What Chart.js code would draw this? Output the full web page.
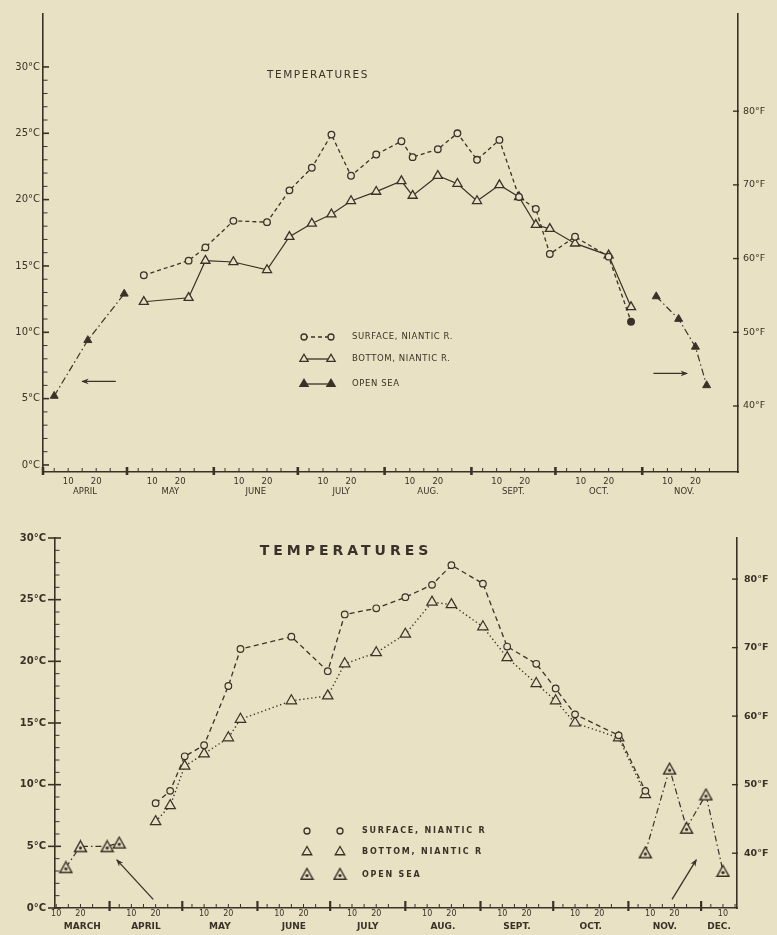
<!DOCTYPE html>
<html><head><meta charset="utf-8">
<script src="https://cdn.jsdelivr.net/npm/chart.js@4.4.1/dist/chart.umd.min.js"></script>
<style>
html,body{margin:0;padding:0;background:#e9e1c3;}
#p1{position:absolute;left:0;top:0;width:777px;height:500px;}
#p2{position:absolute;left:0;top:500px;width:777px;height:435px;}
</style></head><body>
<div id="p1"><canvas id="c1"></canvas></div>
<div id="p2"><canvas id="c2"></canvas></div>
<script>
// ---------- DATA ----------
// upper chart
const topMonthNums = [4,5,6,7,8,9,10,11];
const topMonthNames = ['APRIL','MAY','JUNE','JULY','AUG.','SEPT.','OCT.','NOV.'];
const topDates = ['05-07','05-23','05-29','06-08','06-20','06-28','07-06','07-13','07-20','07-29','08-07','08-11','08-20','08-27','09-03','09-11','09-18','09-24','09-29','10-08','10-20','10-28'];
const topSurface = [14.3,15.4,16.4,18.4,18.3,20.7,22.4,24.9,21.8,23.4,24.4,23.2,23.8,25.0,23.0,24.5,20.2,19.3,15.9,17.2,15.7,10.8];
const topBottom  = [12.3,12.6,15.4,15.3,14.7,17.2,18.2,18.9,19.9,20.6,21.4,20.3,21.8,21.2,19.9,21.1,20.2,18.1,17.8,16.7,15.8,11.9];
const topSeaDates = ['04-05','04-17','04-30',null,'11-06','11-14','11-20','11-24'];
const topSea      = [5.2,9.4,12.9,null,12.7,11.0,8.9,6.0];

// lower chart
const botMonthNums = [3,4,5,6,7,8,9,10,11,12];
const botMonthNames = ['MARCH','APRIL','MAY','JUNE','JULY','AUG.','SEPT.','OCT.','NOV.','DEC.'];
const botDates = ['04-20','04-26','05-02','05-10','05-20','05-25','06-15','06-30','07-07','07-20','08-01','08-12','08-20','09-02','09-12','09-24','10-02','10-10','10-28','11-08'];
const botSurface = [8.5,9.5,12.3,13.2,18.0,21.0,22.0,19.2,23.8,24.3,25.2,26.2,27.8,26.3,21.2,19.8,17.8,15.7,14.0,9.5];
const botBottom  = [7.0,8.3,11.5,12.5,13.8,15.3,16.8,17.2,19.8,20.7,22.2,24.8,24.6,22.8,20.3,18.2,16.8,15.0,13.8,9.2];
const botSeaDates = ['03-14','03-20','03-31','04-05',null,'11-08','11-18','11-25','12-03','12-10'];
const botSea      = [3.3,5.0,5.0,5.3,null,4.5,11.3,6.5,9.2,3.0];

// axis tick labels
const celsiusTicks = [0,5,10,15,20,25,30];
const fahrenheitTicks = [40,50,60,70,80];
const dayLabels = [10,20];
const legendTop = ['SURFACE, NIANTIC R.','BOTTOM, NIANTIC R.','OPEN SEA'];
const legendBot = ['SURFACE, NIANTIC R','BOTTOM, NIANTIC R','OPEN SEA'];
const titleText = 'TEMPERATURES';
// arrows (annotations, in data units)
const topArrows = [{from:['04-27',6.3], to:['04-15',6.3]}, {from:['11-05',6.9], to:['11-17',6.9]}];
const botArrows = [{from:['04-19',0.7], to:['04-04',3.9]}, {from:['11-19',0.7], to:['11-29',3.9]}];

// ---------- helpers ----------
const INK = '#3a3128';
const BG = '#e9e1c3';
const FONT = "'DejaVu Sans', sans-serif";
const CUM = [0,31,59,90,120,151,181,212,243,273,304,334,365];
const doy = s => { const [m,d] = s.split('-').map(Number); return CUM[m-1] + d - 1; };
const toF = c => c * 1.8 + 32;

function series(dates, vals) {
  return dates.map((d,i) => ({ x: d ? doy(d) : doy(dates[i-1]) + 1, y: vals[i] }));
}

function buildDayTicks(scale, months, names) {
  const ticks = [];
  months.forEach((m,i) => {
    const start = CUM[m-1], end = CUM[m];
    if (start >= scale.min && start <= scale.max) ticks.push({value:start, lab:'', kind:'month'});
    [5,10,15,20,25].forEach(dd => {
      const v = start + dd - 1;
      if (v >= scale.min && v <= scale.max) ticks.push({value:v, lab: dayLabels.includes(dd) ? String(dd) : '', kind:'day'});
    });
    const a = Math.max(start, scale.min), b = Math.min(end, scale.max);
    ticks.push({value:(a+b)/2, lab:['', names[i]], kind:'name'});
  });
  ticks.sort((p,q) => p.value - q.value);
  return ticks;
}

function seaMarker() {
  const c = document.createElement('canvas');
  c.width = 15; c.height = 14;
  const g = c.getContext('2d');
  g.strokeStyle = INK; g.lineWidth = 1.4; g.fillStyle = BG;
  g.beginPath(); g.moveTo(7.5,1.5); g.lineTo(13.5,12.3); g.lineTo(1.5,12.3); g.closePath();
  g.fill(); g.stroke();
  g.beginPath(); g.arc(7.5,8.6,1.6,0,Math.PI*2); g.fillStyle = INK; g.fill();
  return c;
}
const SEA_IMG = seaMarker();

function drawMarker(ctx, kind, x, y, r) {
  ctx.save();
  ctx.setLineDash([]);
  ctx.lineWidth = 1.3; ctx.strokeStyle = INK;
  if (kind === 'circle') { ctx.fillStyle = BG; ctx.beginPath(); ctx.arc(x,y,r,0,Math.PI*2); ctx.fill(); ctx.stroke(); }
  else if (kind === 'triangle' || kind === 'ftriangle') {
    ctx.fillStyle = kind === 'ftriangle' ? INK : BG;
    ctx.beginPath(); ctx.moveTo(x, y-r); ctx.lineTo(x + r*0.866, y + r*0.5); ctx.lineTo(x - r*0.866, y + r*0.5); ctx.closePath();
    ctx.fill(); ctx.stroke();
  } else if (kind === 'sea') { ctx.drawImage(SEA_IMG, x - SEA_IMG.width/2, y - SEA_IMG.height/2 - 1); }
  ctx.restore();
}

function spacedText(ctx, text, x, y, font, spacing, align) {
  ctx.save();
  ctx.font = font; ctx.fillStyle = INK; ctx.textBaseline = 'middle';
  try { ctx.letterSpacing = spacing + 'px'; } catch(e) {}
  ctx.textAlign = align || 'left';
  ctx.fillText(text, x, y);
  ctx.restore();
}

const deco = {
  id: 'deco',
  afterDraw(chart, args, o) {
    const ctx = chart.ctx, xs = chart.scales.x, ys = chart.scales.y, yf = chart.scales.yF;
    ctx.save();
    ctx.strokeStyle = INK; ctx.fillStyle = INK;
    const ax = xs.top;
    xs.ticks.forEach(t => {
      if (t.kind === 'name') return;
      const px = xs.getPixelForValue(t.value);
      ctx.beginPath();
      if (t.kind === 'month') { ctx.lineWidth = o.monthTickW; ctx.moveTo(px, ax + o.monthTickDown); ctx.lineTo(px, ax - o.monthTickUp); }
      else { ctx.lineWidth = 1; ctx.moveTo(px, ax); ctx.lineTo(px, ax - 4); }
      ctx.stroke();
    });
    ys.ticks.forEach(t => {
      const py = ys.getPixelForValue(t.value), x0 = ys.right;
      ctx.beginPath();
      if (celsiusTicks.includes(t.value)) { ctx.lineWidth = 1.6; ctx.moveTo(x0 - o.majorOut, py); ctx.lineTo(x0 + 6, py); }
      else { ctx.lineWidth = 1; ctx.moveTo(x0, py); ctx.lineTo(x0 + 4.5, py); }
      ctx.stroke();
    });
    yf.ticks.forEach(t => {
      const py = yf.getPixelForValue(t.value), x0 = yf.left;
      ctx.beginPath(); ctx.lineWidth = 1.4; ctx.moveTo(x0 - 5, py); ctx.lineTo(x0 + 1, py); ctx.stroke();
    });
    // arrows
    o.arrows.forEach(a => {
      const x1 = xs.getPixelForValue(doy(a.from[0])), y1 = ys.getPixelForValue(a.from[1]);
      const x2 = xs.getPixelForValue(doy(a.to[0])), y2 = ys.getPixelForValue(a.to[1]);
      const ang = Math.atan2(y2 - y1, x2 - x1);
      ctx.lineWidth = 1.3;
      ctx.beginPath(); ctx.moveTo(x1, y1); ctx.lineTo(x2, y2); ctx.stroke();
      const L = 7, W = 0.42;
      ctx.beginPath();
      ctx.moveTo(x2 + Math.cos(ang)*1, y2 + Math.sin(ang)*1);
      ctx.lineTo(x2 - L*Math.cos(ang - W), y2 - L*Math.sin(ang - W));
      ctx.lineTo(x2 - L*0.6*Math.cos(ang), y2 - L*0.6*Math.sin(ang));
      ctx.lineTo(x2 - L*Math.cos(ang + W), y2 - L*Math.sin(ang + W));
      ctx.closePath(); ctx.fill();
    });
    // title
    const t = o.title;
    spacedText(ctx, titleText, t.x, t.y, t.font, t.spacing, 'center');
    // legend
    const lg = o.legend;
    lg.rows.forEach((r, i) => {
      if (lg.joined) {
        ctx.save(); ctx.lineWidth = 1.3; ctx.setLineDash(r.dash);
        ctx.beginPath(); ctx.moveTo(lg.x1, r.y); ctx.lineTo(lg.x2, r.y); ctx.stroke(); ctx.restore();
      }
      drawMarker(ctx, r.kind, lg.x1, r.y, r.r);
      drawMarker(ctx, r.kind, lg.x2, r.y, r.r);
      spacedText(ctx, lg.texts[i], lg.tx, r.y, lg.font, lg.spacing, 'left');
    });
    ctx.restore();
  }
};

function axisCommon() {
  return { grid: {display:false, drawTicks:false}, border: {display:true, color:INK, width:1.6} };
}

// ---------- upper chart ----------
const T_MIN = -0.53, T_MAX = 33.99;
new Chart(document.getElementById('c1'), {
  type: 'line',
  data: { datasets: [
    { label: legendTop[0], data: series(topDates, topSurface), borderColor: INK, borderWidth: 1.3, borderDash: [4,3],
      pointStyle: 'circle', pointRadius: 3.3, pointBorderWidth: 1.3, pointBorderColor: INK,
      pointBackgroundColor: c => c.dataIndex === topSurface.length - 1 ? INK : BG },
    { label: legendTop[1], data: series(topDates, topBottom), borderColor: INK, borderWidth: 1.2,
      pointStyle: 'triangle', pointRadius: 5.2, pointBorderWidth: 1.3, pointBorderColor: INK, pointBackgroundColor: BG },
    { label: legendTop[2], data: series(topSeaDates, topSea), borderColor: INK, borderWidth: 1.2, borderDash: [7,3,1.5,3],
      pointStyle: 'triangle', pointRadius: 4.6, pointBorderWidth: 1, pointBorderColor: INK, pointBackgroundColor: INK, spanGaps: false }
  ]},
  options: {
    responsive: true, maintainAspectRatio: false, animation: false,
    layout: { padding: { top: 14, left: 0, right: 0, bottom: 0 } },
    plugins: {
      legend: {display:false}, tooltip: {enabled:false},
      deco: {
        monthTickW: 2.6, monthTickUp: 5, monthTickDown: 3, majorOut: 0,
        arrows: topArrows,
        title: { x: 318, y: 75, font: `10.5px ${FONT}`, spacing: 1.6 },
        legend: { joined: true, x1: 304, x2: 331, tx: 352, font: `8.5px ${FONT}`, spacing: 0.6, texts: legendTop,
          rows: [ {y:337, kind:'circle', r:3, dash:[4,3]}, {y:359, kind:'triangle', r:4.8, dash:[]}, {y:384, kind:'ftriangle', r:4.8, dash:[]} ] }
      }
    },
    scales: {
      x: Object.assign(axisCommon(), {
        type: 'linear', position: 'bottom', min: doy('04-01'), max: 338.2,
        afterFit: s => { s.height = 28; },
        afterBuildTicks: s => { s.ticks = buildDayTicks(s, topMonthNums, topMonthNames); },
        ticks: { autoSkip: false, maxRotation: 0, minRotation: 0, padding: 5, color: INK,
          font: { family: FONT, size: 8.5, lineHeight: 1.15 },
          callback: (v, i, ticks) => ticks[i].lab }
      }),
      y: Object.assign(axisCommon(), {
        type: 'linear', position: 'left', min: T_MIN, max: T_MAX,
        afterFit: s => { s.width = 43; },
        afterBuildTicks: s => { s.ticks = Array.from({length:31}, (_, k) => ({value:k})); },
        ticks: { autoSkip: false, padding: 3, color: INK, font: { family: FONT, size: 10 },
          callback: v => celsiusTicks.includes(v) ? v + '°C' : '' }
      }),
      yF: Object.assign(axisCommon(), {
        type: 'linear', position: 'right', min: toF(T_MIN), max: toF(T_MAX),
        afterFit: s => { s.width = 39; },
        afterBuildTicks: s => { s.ticks = fahrenheitTicks.map(v => ({value:v})); },
        ticks: { autoSkip: false, padding: 5, color: INK, font: { family: FONT, size: 9.5 },
          callback: v => v + '°F' }
      })
    }
  },
  plugins: [deco]
});

// ---------- lower chart ----------
const B_MIN = 0, B_MAX = 30;
new Chart(document.getElementById('c2'), {
  type: 'line',
  data: { datasets: [
    { label: legendBot[0], data: series(botDates, botSurface), borderColor: INK, borderWidth: 1.3, borderDash: [5,3.5],
      pointStyle: 'circle', pointRadius: 3.3, pointBorderWidth: 1.2, pointBorderColor: INK, pointBackgroundColor: BG },
    { label: legendBot[1], data: series(botDates, botBottom), borderColor: INK, borderWidth: 1.4, borderDash: [1.3,2.7],
      pointStyle: 'triangle', pointRadius: 6, pointBorderWidth: 1.2, pointBorderColor: INK, pointBackgroundColor: BG },
    { label: legendBot[2], data: series(botSeaDates, botSea), borderColor: INK, borderWidth: 1.2, borderDash: [6,3,1.5,3],
      pointStyle: SEA_IMG, pointRadius: 6, spanGaps: false }
  ]},
  options: {
    responsive: true, maintainAspectRatio: false, animation: false,
    layout: { padding: { top: 38, left: 0, right: 0, bottom: 0 } },
    plugins: {
      legend: {display:false}, tooltip: {enabled:false},
      deco: {
        monthTickW: 2.2, monthTickUp: 7, monthTickDown: 3, majorOut: 7,
        arrows: botArrows,
        title: { x: 346, y: 51, font: `bold 14px ${FONT}`, spacing: 4 },
        legend: { joined: false, x1: 307, x2: 340, tx: 362, font: `bold 8px ${FONT}`, spacing: 1.8, texts: legendBot,
          rows: [ {y:331, kind:'circle', r:3}, {y:352, kind:'triangle', r:5.5}, {y:375, kind:'sea', r:5} ] }
      }
    },
    scales: {
      x: Object.assign(axisCommon(), {
        type: 'linear', position: 'bottom', min: 67.5, max: 348.8,
        afterFit: s => { s.height = 27; },
        afterBuildTicks: s => { s.ticks = buildDayTicks(s, botMonthNums, botMonthNames); },
        ticks: { autoSkip: false, maxRotation: 0, minRotation: 0, padding: 1.2, color: INK,
          font: c => ({ family: FONT, size: (c.tick && c.tick.kind === 'name') ? 9 : 8, weight: (c.tick && c.tick.kind === 'name') ? 'bold' : 'normal', lineHeight: 1.3 }),
          callback: (v, i, ticks) => ticks[i].lab }
      }),
      y: Object.assign(axisCommon(), {
        type: 'linear', position: 'left', min: B_MIN, max: B_MAX,
        afterFit: s => { s.width = 55; },
        afterBuildTicks: s => { s.ticks = Array.from({length:31}, (_, k) => ({value:k})); },
        ticks: { autoSkip: false, padding: 9, color: INK, font: { family: FONT, size: 10, weight: 'bold' },
          callback: v => celsiusTicks.includes(v) ? v + '°C' : '' }
      }),
      yF: Object.assign(axisCommon(), {
        type: 'linear', position: 'right', min: toF(B_MIN), max: toF(B_MAX),
        afterFit: s => { s.width = 40; },
        afterBuildTicks: s => { s.ticks = fahrenheitTicks.map(v => ({value:v})); },
        ticks: { autoSkip: false, padding: 7, color: INK, font: { family: FONT, size: 9.5, weight: 'bold' },
          callback: v => v + '°F' }
      })
    }
  },
  plugins: [deco]
});
</script>
</body></html>
